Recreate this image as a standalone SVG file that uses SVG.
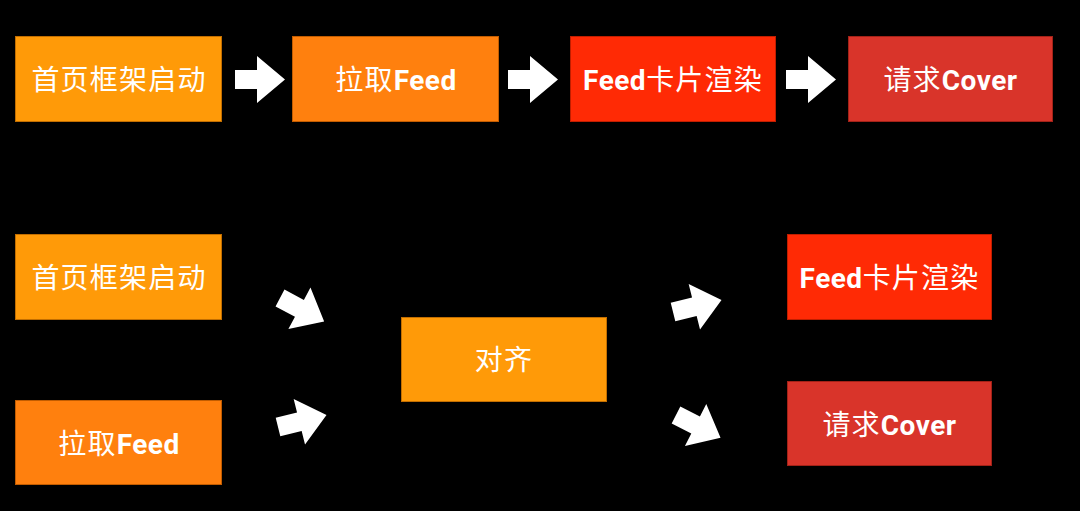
<svg xmlns="http://www.w3.org/2000/svg" width="1080" height="511" viewBox="0 0 1080 511">
<defs>
<style>
.box{stroke-width:1}
.o1{fill:#FF9A08;stroke:#C26E00}
.o2{fill:#FF800E;stroke:#C25C00}
.r1{fill:#FF2A05;stroke:#C01E00}
.r2{fill:#D9342A;stroke:#A32218}
.t{font-family:"Noto Sans CJK SC","Noto Sans",sans-serif;font-size:28px;fill:#FFFFFF;text-anchor:middle;letter-spacing:1.2px}
.b{font-family:Roboto,"Liberation Sans",sans-serif;font-weight:700;letter-spacing:0.5px}
.arr{fill:#FFFFFF}
</style>
<path id="ar" d="M0,-9.5 L22,-9.5 L22,-23.5 L50,0 L22,23.5 L22,9.5 L0,9.5 Z"/>
</defs>
<rect x="0" y="0" width="1080" height="511" fill="#000000"/>
<g id="connectors" class="arr">
<use href="#ar" transform="translate(235,79.5)"/>
<use href="#ar" transform="translate(508,79.5)"/>
<use href="#ar" transform="translate(786,79.5)"/>
<use href="#ar" transform="translate(280,298) rotate(28)"/>
<use href="#ar" transform="translate(278,427) rotate(-14)"/>
<use href="#ar" transform="translate(673,312) rotate(-14)"/>
<use href="#ar" transform="translate(676,415) rotate(27)"/>
</g>
<g id="n1"><rect class="box o1" x="15.5" y="36.5" width="206" height="85"/><text class="t" x="119" y="90">首页框架启动</text></g>
<g id="n2"><rect class="box o2" x="292.5" y="36.5" width="206" height="85"/><text class="t" x="396" y="90">拉取<tspan class="b">Feed</tspan></text></g>
<g id="n3"><rect class="box r1" x="570.5" y="36.5" width="205" height="85"/><text class="t" x="673" y="90"><tspan class="b">Feed</tspan>卡片渲染</text></g>
<g id="n4"><rect class="box r2" x="848.5" y="36.5" width="204" height="85"/><text class="t" x="950.5" y="90">请求<tspan class="b">Cover</tspan></text></g>
<g id="n5"><rect class="box o1" x="15.5" y="234.5" width="206" height="85"/><text class="t" x="119" y="288">首页框架启动</text></g>
<g id="n6"><rect class="box o2" x="15.5" y="400.5" width="206" height="84"/><text class="t" x="119" y="454">拉取<tspan class="b">Feed</tspan></text></g>
<g id="n7"><rect class="box o1" x="401.5" y="317.5" width="205" height="84"/><text class="t" x="504" y="370">对齐</text></g>
<g id="n8"><rect class="box r1" x="787.5" y="234.5" width="204" height="85"/><text class="t" x="889.5" y="288"><tspan class="b">Feed</tspan>卡片渲染</text></g>
<g id="n9"><rect class="box r2" x="787.5" y="381.5" width="204" height="84"/><text class="t" x="889.5" y="435">请求<tspan class="b">Cover</tspan></text></g>
</svg>
